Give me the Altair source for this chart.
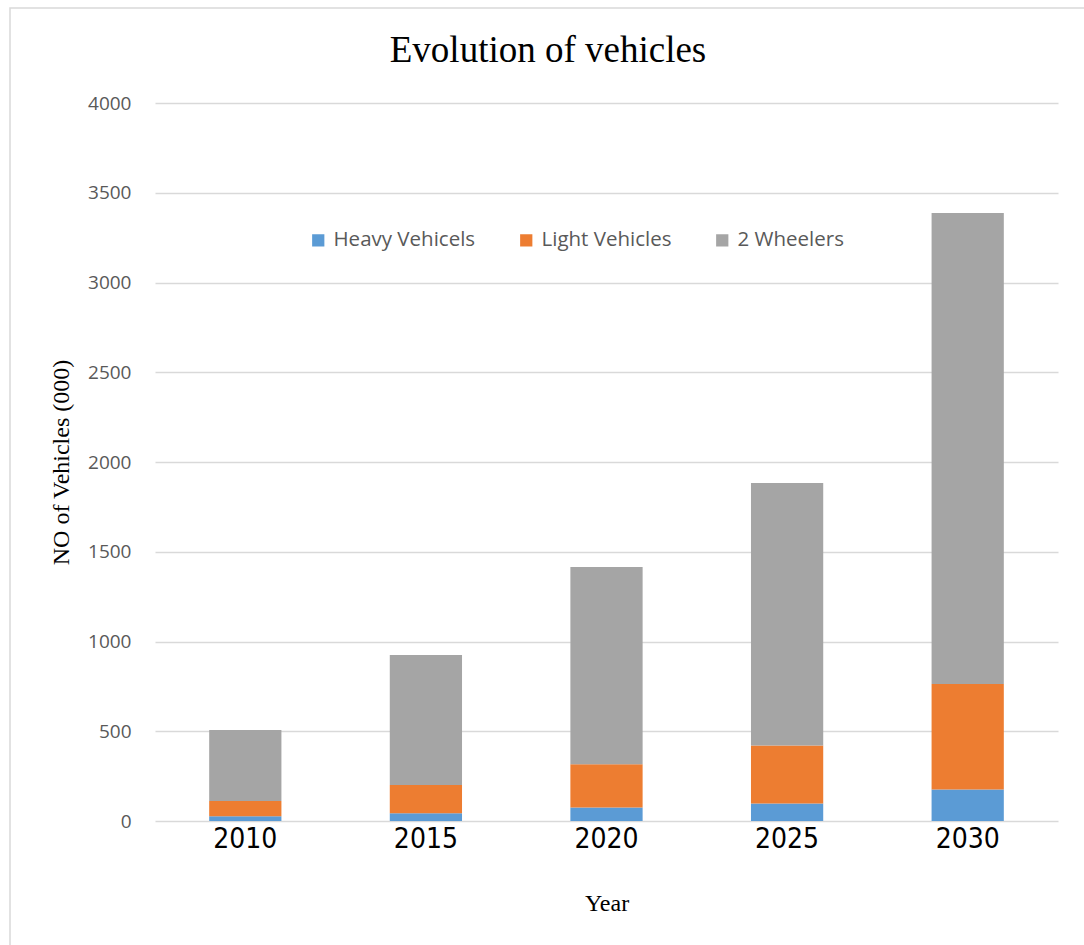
import altair as alt
import pandas as pd

years = ["2010", "2015", "2020", "2025", "2030"]
heavy = [26, 43, 75, 97, 175]
light = [85, 157, 241, 323, 588]
two_wheelers = [396, 725, 1099, 1463, 2624]
series = ["Heavy Vehicels", "Light Vehicles", "2 Wheelers"]
colors = ["#5B9BD5", "#ED7D31", "#A5A5A5"]
title_text = "Evolution of vehicles"

rows = []
for i, y in enumerate(years):
    for k, (s, vals) in enumerate(zip(series, [heavy, light, two_wheelers])):
        rows.append({"Year": y, "Type": s, "Value": vals[i], "ord": k})
df = pd.DataFrame(rows)

cond = "Liberation Sans Narrow, DejaVu Sans Condensed, Roboto Condensed, Arial Narrow, sans-serif"

bars = alt.Chart(df).mark_bar(strokeWidth=0).encode(
    x=alt.X("Year:N", sort=years,
            scale=alt.Scale(paddingInner=0.6, paddingOuter=0.3),
            axis=alt.Axis(title="Year", labelAngle=0, labelFont=cond, grid=False,
                          labelFontSize=28, labelColor="#000000", labelPadding=4,
                          ticks=False, domain=False, titleFont="Liberation Serif",
                          titleFontSize=24, titleFontWeight="normal", titleColor="#000000",
                          titlePadding=38)),
    y=alt.Y("Value:Q", stack="zero",
            scale=alt.Scale(domain=[0, 4000], nice=False),
            axis=alt.Axis(title="NO of Vehicles (000)", values=list(range(0, 4001, 500)),
                          format="d",
                          labelFont="Open Sans", labelFontSize=19, labelColor="#595959",
                          labelPadding=24, ticks=False, domain=False,
                          gridColor="#D9D9D9", gridWidth=1.5,
                          titleFont="Liberation Serif", titleFontSize=24,
                          titleFontWeight="normal", titleColor="#000000", titlePadding=14)),
    color=alt.Color("Type:N", sort=series,
                    scale=alt.Scale(domain=series, range=colors),
                    legend=alt.Legend(title=None, orient="none", legendX=153, legendY=127,
                                      direction="horizontal", symbolType="square",
                                      symbolSize=150, symbolStrokeWidth=0,
                                      labelFont="Open Sans", labelFontSize=20.5,
                                      labelColor="#595959", columnPadding=40,
                                      labelOffset=5)),
    order=alt.Order("ord:Q", sort="ascending"),
)

border = alt.Chart(pd.DataFrame({"a": [0]})).mark_rect(
    fill=None, stroke="#D9D9D9", strokeWidth=1.5
).encode(x=alt.value(-145), x2=alt.value(1100), y=alt.value(-95), y2=alt.value(900))

title = alt.Chart(pd.DataFrame({"t": [title_text]})).mark_text(
    font="Liberation Serif", fontSize=37, color="#000000", align="center", baseline="alphabetic"
).encode(text="t:N", x=alt.value(393), y=alt.value(-41))

chart = alt.layer(border, bars, title).properties(
    width=903, height=718,
    background="white",
    autosize=alt.AutoSizeParams(type="none"),
    padding={"left": 155, "top": 103, "right": 26, "bottom": 124},
).configure_view(strokeOpacity=0, strokeWidth=0)

chart.save("out.html", embed_options={"renderer": "svg", "actions": False})
